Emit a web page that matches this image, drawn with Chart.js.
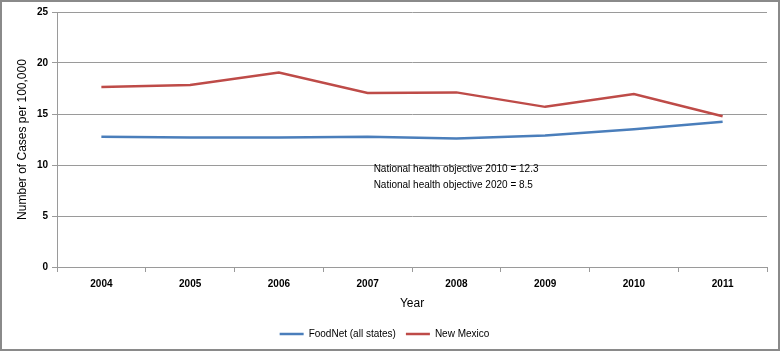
<!DOCTYPE html>
<html lang="en">
<head>
  <meta charset="UTF-8">
  <title>Salmonella incidence</title>
  <script src="https://cdn.jsdelivr.net/npm/chart.js"></script>
  <style>
    body {
      margin: 0;
      padding: 0;
      background-color: #ffffff;
    }
    .frame {
      width: 780px;
      height: 351px;
      box-sizing: border-box;
      border: 2px solid #8a8a8a;
      position: relative;
    }
  </style>
</head>
<body>
  <div class="frame">
    <canvas id="chart" width="776" height="347"></canvas>
  </div>

  <script>
    // Data
    const years = ['2004', '2005', '2006', '2007', '2008', '2009', '2010', '2011'];
    const foodNet = [12.76, 12.7, 12.7, 12.76, 12.6, 12.9, 13.5, 14.25];
    const newMexico = [17.65, 17.85, 19.07, 17.06, 17.12, 15.7, 16.96, 14.78];
    const yTicks = [0, 5, 10, 15, 20, 25];
    const notes = ['National health objective 2010 = 12.3', 'National health objective 2020 = 8.5'];

    const fontFamily = "'Liberation Sans', Arial, sans-serif";
    const gridColor = '#9a9a9a';

    // Text box in the middle of the plot
    const notesPlugin = {
      id: 'notes',
      afterDatasetsDraw(chart) {
        const ctx = chart.ctx;
        const x = chart.scales.x.getPixelForValue(3) + 6;
        const y0 = chart.scales.y.getPixelForValue(9.6);
        ctx.save();
        ctx.font = '10px ' + fontFamily;
        ctx.fillStyle = '#000000';
        ctx.textBaseline = 'middle';
        notes.forEach((t, i) => ctx.fillText(t, x, y0 + i * 16));
        ctx.restore();
      }
    };

    const ctx = document.getElementById('chart').getContext('2d');
    new Chart(ctx, {
      type: 'line',
      data: {
        labels: years,
        datasets: [{
          label: 'FoodNet (all states)',
          data: foodNet,
          borderColor: '#4a7ebb',
          backgroundColor: '#4a7ebb',
          borderWidth: 2.5,
          pointRadius: 0,
          tension: 0
        }, {
          label: 'New Mexico',
          data: newMexico,
          borderColor: '#be4b48',
          backgroundColor: '#be4b48',
          borderWidth: 2.5,
          pointRadius: 0,
          tension: 0
        }]
      },
      options: {
        responsive: false,
        animation: false,
        layout: {
          padding: { left: 0, right: 11, top: 10, bottom: 0 }
        },
        scales: {
          x: {
            offset: true,
            grid: {
              offset: true,
              drawOnChartArea: false,
              drawTicks: true,
              tickLength: 5,
              color: gridColor
            },
            border: { color: gridColor, width: 1 },
            ticks: {
              color: '#000000',
              padding: 6,
              font: { family: fontFamily, size: 10, weight: 'bold' }
            },
            title: {
              display: true,
              text: 'Year',
              color: '#000000',
              padding: { top: 2, bottom: 8 },
              font: { family: fontFamily, size: 12 }
            },
            afterFit(scale) { scale.height = 52; }
          },
          y: {
            min: 0,
            max: 25,
            afterBuildTicks(scale) { scale.ticks = yTicks.map(v => ({ value: v })); },
            grid: {
              color: gridColor,
              drawTicks: true,
              tickLength: 5
            },
            border: { color: gridColor, width: 1 },
            ticks: {
              color: '#000000',
              padding: 4,
              font: { family: fontFamily, size: 10, weight: 'bold' }
            },
            title: {
              display: true,
              text: 'Number of Cases per 100,000',
              color: '#000000',
              padding: { top: 13, bottom: 4 },
              font: { family: fontFamily, size: 12 }
            },
            afterFit(scale) { scale.width = 55; }
          }
        },
        plugins: {
          legend: {
            position: 'bottom',
            labels: {
              usePointStyle: true,
              pointStyle: 'line',
              pointStyleWidth: 24,
              color: '#000000',
              padding: 10,
              font: { family: fontFamily, size: 10 }
            }
          },
          tooltip: { enabled: false }
        }
      },
      plugins: [notesPlugin]
    });
  </script>
</body>
</html>
